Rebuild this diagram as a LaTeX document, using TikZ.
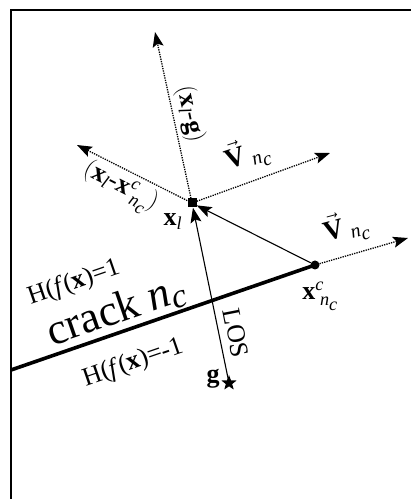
\documentclass[tikz,border=0pt]{standalone}
\usepackage{amsmath}
\usepackage{fontspec}
\setmainfont{Liberation Serif}
\usetikzlibrary{arrows.meta,shapes.geometric}
\newcommand{\bx}{\textbf{x}}
\newcommand{\bg}{\textbf{g}}
\newcommand{\nc}{\textit{n}\raisebox{-0.25em}{\textit{c}}}

\begin{document}
\begin{tikzpicture}[x=1pt, y=1pt, >={Stealth[length=15pt,width=11pt,inset=3pt]},
    dotarrow/.style={->, line width=1.3pt, dash pattern=on 1.3pt off 1.1pt},
    losarrow/.style={->, line width=1.1pt},
    lbl/.style={font=\fontsize{26}{30}\selectfont, inner sep=1pt}]
    \useasboundingbox (0,0) rectangle (411,499);
    % Frame
    \draw[line width=2pt] (11,0) -- (11,489) -- (411,489);

    % Points
    \node[fill, minimum size=9pt, inner sep=0pt] (Xl) at (192,296) {};
    \node[circle, fill, minimum size=9pt, inner sep=0pt] (Xc) at (315,234) {};
    \coordinate (CrackEnd) at (11,129);
    \coordinate (UpTip) at (155,467);
    \coordinate (LeftTip) at (77,354);
    \coordinate (RightTip) at (330,346);
    \coordinate (XcTip) at (408,261);
    \node[star, star points=5, star point ratio=2.4, fill, minimum size=16pt, inner sep=0pt] (G) at (229,116) {};

    % Crack
    \draw[line width=3.6pt] (CrackEnd) -- (Xc.center);

    % Directions from x_l
    \draw[dotarrow] (Xl) -- (UpTip);
    \draw[dotarrow] (Xl) -- (LeftTip);
    \draw[dotarrow] (Xl) -- (RightTip);
    \draw[dotarrow] (Xc) -- (XcTip);

    % Line of sight and crack tip vector
    \draw[losarrow] (G.center) -- (Xl);
    \draw[losarrow] (Xc) -- (Xl);

    % Labels
    \node[lbl, rotate=-78] (LblUp) at (190,385) {$($\bx$_{\textit{l}}$-\bg$)$};
    \node[lbl, rotate=-27] (LblLeft) at (120,311) {$($\bx$_{\textit{l}}$-\bx$^{\textit{c}}_{\;\text{\nc}})$};
    \node[lbl] (LblXl) at (173,277) {\bx$_{\textit{l}}$};
    \node[lbl, rotate=18, font=\fontsize{28}{32}\selectfont] (LblV1) at (247,344) {$\vec{\text{\textbf{V}}}_{\;\text{\nc}}$};
    \node[lbl, rotate=15, font=\fontsize{28}{32}\selectfont] (LblV2) at (346,271) {$\vec{\text{\textbf{V}}}_{\;\text{\nc}}$};
    \node[lbl] (LblXc) at (320,203) {\bx$^{\textit{c}}_{\;\text{\nc}}$};
    \node[lbl, rotate=19] (LblUpper) at (74,216) {H(\textit{f}(\bx)=1};
    \node[lbl, rotate=19, font=\fontsize{44}{48}\selectfont] (LblCrack) at (116,188) {crack \textit{n}\raisebox{-0.12em}{\fontsize{34}{36}\selectfont\textit{c}}};
    \node[lbl, rotate=19] (LblLower) at (133,136) {H(\textit{f}(\bx)=-1};
    \node[lbl, rotate=-79] (LblLOS) at (236,166) {LOS};
    \node[lbl] (LblG) at (213,120) {\bg};
\end{tikzpicture}
\end{document}
